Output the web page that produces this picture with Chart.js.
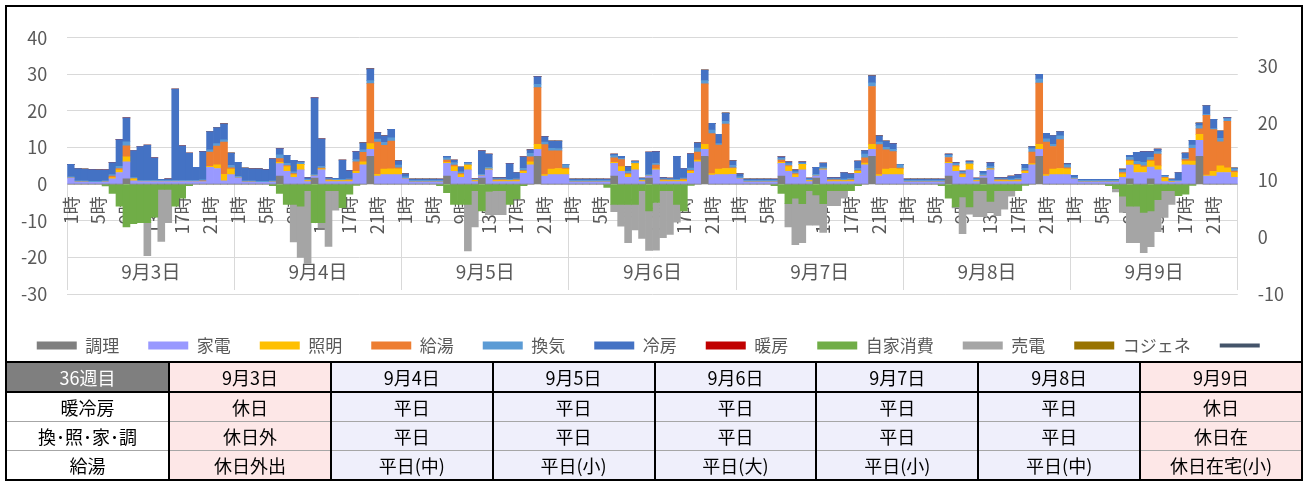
<!DOCTYPE html>
<html lang="ja">
<head>
<meta charset="utf-8">
<title>36週目 エネルギー</title>
<script src="https://cdn.jsdelivr.net/npm/chart.js@4.4.1/dist/chart.umd.min.js"></script>
<style>
  body { margin: 0; background: #fff; font-family: "Noto Sans CJK JP", "Noto Sans", sans-serif; }
  #chart-box { position: absolute; left: 5px; top: 5px; width: 1294px; height: 355px; border: 2px solid #000; border-bottom: none; }
  #chart-box canvas { display: block; }
  #info { position: absolute; left: 5px; top: 361px; width: 1298px; border-collapse: collapse; table-layout: fixed; border: 2px solid #000; }
  #info td { height: 28px; padding: 0; text-align: center; font-size: 18px; color: #000; border-left: 2px solid #000; border-right: 2px solid #000; border-top: 1px solid #a6a6a6; line-height: 28px; }
  #info tr.head td { border-top: 2px solid #000; border-bottom: 2px solid #000; }
  #info td.week { background: #7f7f7f; color: #fff; }
  #info td.holiday { background: #fde7e7; }
  #info td.weekday { background: #efeffb; }
</style>
</head>
<body>
<div id="chart-box"><canvas id="energyChart" width="1294" height="355"></canvas></div>
<table id="info"><colgroup><col style="width:163px"></colgroup><tbody></tbody></table>
<script>
// 横軸ラベル
const hourLabels = ["1時","2時","3時","4時","5時","6時","7時","8時","9時","10時","11時","12時",
  "13時","14時","15時","16時","17時","18時","19時","20時","21時","22時","23時","24時"];
const dayLabels = ["9月3日","9月4日","9月5日","9月6日","9月7日","9月8日","9月9日"];

// 表の中身
const weekLabel = "36週目";
const rowTitles = ["暖冷房", "換･照･家･調", "給湯"];
const hvacRow = ["休日","平日","平日","平日","平日","平日","休日"];
const otherRow = ["休日外","平日","平日","平日","平日","平日","休日在"];
const hotWaterRow = ["休日外出","平日(中)","平日(小)","平日(大)","平日(小)","平日(中)","休日在宅(小)"];

// 時間ごとの値（1日24本 × 7日）
const cooking = [
  0,0,0,0,0,0,0,0,1.5,0,0,0,0,0,0,0,0,0,0,0,0,0,0,0,
  0,0,0,0,0,0,2.2,0,0,0,0,1.7,0,0,0,0,0,0,0,7.6,0,0,0,0,
  0,0,0,0,0,0,2.2,0,0,0,0,1.7,0,0,0,0,0,0,0,7.6,0,0,0,0,
  0,0,0,0,0,0,2.2,0,0,0,0,1.7,0,0,0,0,0,0,0,7.6,0,0,0,0,
  0,0,0,0,0,0,2.2,0,0,0,0,1.7,0,0,0,0,0,0,0,7.6,0,0,0,0,
  0,0,0,0,0,0,2.2,0,0,0,0,1.7,0,0,0,0,0,0,0,7.6,0,0,0,0,
  0,0,0,0,0,0,0,0,1.5,0,0,1.5,0,0,0,0,0,0,7.6,0,0,0,0,0
];
const appliance = [
  1.7,0.6,0.6,0.5,0.5,0.6,1.5,3.2,4.6,0.9,0.7,0.7,0.7,0.7,0.7,0.7,0.7,0.7,0.7,0.7,4.6,4.3,0.9,2.6,
  1.7,0.6,0.6,0.5,0.5,0.6,3.4,3.5,1.9,3.9,0.7,0.5,3.9,0.7,0.7,0.7,0.7,3.0,5.3,1.9,2.2,2.6,2.6,2.6,
  1.5,0.6,0.6,0.6,0.6,0.6,3.5,3.5,1.9,3.9,0.7,0.6,3.9,0.7,0.7,0.7,0.7,3.0,5.3,1.9,2.2,2.6,2.6,2.6,
  0.6,0.6,0.6,0.6,0.6,0.6,3.5,3.5,1.9,3.9,0.7,0.5,3.9,0.7,0.7,0.7,0.7,3.0,6.1,1.9,2.5,2.6,2.6,2.7,
  1.5,0.6,0.6,0.6,0.6,0.6,3.5,3.5,1.9,3.9,0.7,0.5,3.9,0.7,0.7,0.7,0.7,3.0,5.3,1.9,2.2,2.6,2.6,2.6,
  0.6,0.6,0.6,0.6,0.6,0.6,3.5,3.5,1.9,3.9,0.7,0.5,3.9,0.7,0.7,0.7,0.7,3.0,5.3,1.9,2.2,2.6,2.6,2.6,
  1.4,0.6,0.6,0.6,0.6,0.6,0.6,1.9,3.7,3.2,3.2,3.2,3.9,0.7,0.6,0.7,5.3,5.2,4.4,2.2,2.2,3.2,3.2,1.9
];
const lighting = [
  0,0,0,0,0,0,0.3,0.7,1.4,0.6,0,0,0,0,0,0,0,0,0,0,0.3,1.0,1.8,1.5,
  0,0,0,0,0,0,0.4,1.3,0.7,1.5,0.3,0,0.3,0.3,0.3,0.3,0.3,0.5,0.8,1.6,0.5,1.5,1.6,1.6,
  0,0,0,0,0,0,0.3,1.3,0.7,1.3,0.3,0,0.2,0.3,0.3,0.3,0.3,0.5,0.8,1.4,0.4,1.5,1.7,1.5,
  0,0,0,0,0,0,0.3,1.3,0.7,1.7,0.3,0,0.3,0.3,0.3,0.3,0.4,0.5,0.5,1.4,0.4,1.5,1.7,1.6,
  0,0,0,0,0,0,0.3,1.3,0.7,1.5,0.3,0,0.2,0.3,0.3,0.3,0.3,0.5,0.5,1.4,0.4,1.5,1.7,1.6,
  0,0,0,0,0,0,0.3,1.3,0.7,1.6,0.3,0,0.3,0.3,0.3,0.3,0.3,0.5,0.3,1.4,0.4,1.5,1.7,1.6,
  0,0,0,0,0,0,0,0.9,1.1,2.0,1.5,1.6,1.1,1.0,0.1,0,1.0,1.1,1.6,0.3,1.3,1.8,1.3,1.3
];
const hotWater = [
  0,0,0,0,0,0,0.4,0.4,3.0,0,0,0,0,0,0,0,0,0,0,0.2,3.9,5.1,8.8,0.4,
  0,0,0,0,0,0,1.0,0.3,0.3,0,0,0,0.2,0.2,0,0,0.2,2.6,2.6,16.4,8.8,6.5,7.6,0.3,
  0,0,0,0,0,0,0.6,0.4,0.3,0,0,0,0,0.2,0.2,0,0.2,0.2,1.4,15.5,8.2,5.0,4.8,0.3,
  0,0,0,0,0,0,1.2,1.9,0.3,0,0,0,1.0,0.2,0.1,0,0.3,0.3,2.2,16.5,10.9,6.6,12.1,0.2,
  0,0,0,0,0,0,0.6,0.3,0.3,0,0,0,0,0.2,0.2,0,0.2,0.2,1.4,15.8,8.2,5.3,4.6,0.2,
  0,0,0,0,0,0,1.3,0.3,0.2,0,0,0,0,0.2,0.2,0,0.2,0.2,3.2,16.7,8.9,6.2,7.9,0.3,
  0,0,0,0,0,0,0,0.4,0.3,0.2,0.3,0.3,3.2,0.2,0,0,0.4,3.5,1.5,16.3,11.4,6.6,12.7,0.4
];
const ventilation = [
  0.3,0.3,0.3,0.3,0.3,0.3,0.4,0.6,1.1,0.3,0.3,0.3,0.3,0.3,0.3,0.3,0.3,0.3,0.3,0.3,0.6,0.7,0.6,0.6,
  0.4,0.3,0.3,0.3,0.3,0.3,1.0,0.6,0.5,0.5,0.3,0.4,0.5,0.3,0.3,0.3,0.3,0.6,0.7,0.8,0.8,0.8,0.9,0.7,
  0.5,0.4,0.4,0.4,0.4,0.4,0.6,0.7,0.5,0.6,0.3,0.4,0.5,0.3,0.3,0.3,0.3,0.6,0.9,0.9,0.7,0.7,0.6,0.9,
  0.4,0.4,0.4,0.4,0.4,0.4,0.6,0.4,0.6,0.5,0.4,0.4,0.5,0.3,0.3,0.3,0.3,0.6,1.1,0.9,1.0,0.4,0.8,0.6,
  0.5,0.4,0.4,0.4,0.4,0.4,0.5,0.5,0.5,0.4,0.4,0.5,0.6,0.3,0.3,0.4,0.4,0.6,1.0,1.0,0.7,0.7,0.6,0.9,
  0.4,0.4,0.4,0.4,0.4,0.4,0.6,0.5,0.5,0.5,0.4,0.6,0.6,0.3,0.3,0.4,0.4,0.6,0.9,1.1,0.9,0.6,1.0,0.8,
  0.4,0.4,0.4,0.4,0.4,0.4,0.4,0.5,0.7,0.8,1.0,0.7,0.7,0.3,0.4,0.3,0.4,0.9,0.9,0.3,0.3,0.9,0.7,0.6
];
const cooling = [
  3.4,3.4,3.2,3.2,3.1,3.0,3.3,7.3,6.5,7.4,9.3,9.7,6.2,0.3,0.5,25.0,9.5,7.5,3.6,7.7,5.0,4.4,4.4,3.4,
  3.9,3.5,3.3,3.4,3.2,6.0,1.7,2.2,3.1,0.3,0.5,21.0,7.5,0.3,0.3,5.3,2.2,2.2,1.9,3.2,1.8,1.8,2.3,1.2,
  0.8,0.4,0.4,0.4,0.4,0.4,0.4,0.7,1.3,0.2,0.2,6.4,3.6,0.3,0.3,4.3,1.7,3.2,1.0,2.1,1.5,2.0,2.1,0.1,
  0.4,0.4,0.4,0.4,0.4,0.4,0.4,0.5,1.3,0.2,0.3,6.2,3.2,0.3,0.3,6.3,2.6,3.9,1.4,2.9,1.8,2.5,2.2,1.3,
  0.8,0.4,0.4,0.4,0.4,0.4,0.4,0.5,0.5,0.3,0.3,1.9,1.1,0.3,0.3,1.8,1.2,2.0,1.0,1.9,1.7,1.7,1.6,0.1,
  0.4,0.4,0.4,0.4,0.4,0.4,0.3,0.3,0.3,0.3,0.3,0.7,1.1,0.3,0.3,0.8,1.0,1.1,0.6,1.3,1.5,2.4,1.2,0.3,
  0.6,0.3,0.3,0.3,0.3,0.3,0.3,0.4,0.6,2.5,2.9,1.6,0.7,0.2,0.3,2.2,1.4,1.3,0.7,2.4,2.5,2.0,0.3,0.2
];
const heating = [
  0,0,0,0,0,0,0,0,0,0,0,0,0,0,0,0,0,0,0,0,0,0,0,0,
  0,0,0,0,0,0,0,0,0,0,0,0,0,0,0,0,0,0,0,0,0,0,0,0,
  0,0,0,0,0,0,0,0,0,0,0,0,0,0,0,0,0,0,0,0,0,0,0,0,
  0,0,0,0,0,0,0,0,0,0,0,0,0,0,0,0,0,0,0,0,0,0,0,0,
  0,0,0,0,0,0,0,0,0,0,0,0,0,0,0,0,0,0,0,0,0,0,0,0,
  0,0,0,0,0,0,0,0,0,0,0,0,0,0,0,0,0,0,0,0,0,0,0,0,
  0,0,0,0,0,0,0,0,0,0,0,0,0,0,0,0,0,0,0,0,0,0,0,0
];
const selfUse = [
  0,0,0,0,0,-0.5,-2.5,-6.0,-11.7,-10.8,-10.5,-10.5,-9.0,-1.4,-1.4,-6.0,-3.8,-0.4,0,0,0,0,0,0,
  0,0,0,0,0,-0.4,-2.5,-5.5,-5.5,-6.0,-1.8,-10.5,-10.5,-1.8,-1.8,-6.4,-2.7,-0.3,0,0,0,0,0,0,
  0,0,0,0,0,-0.4,-2.3,-5.5,-5.5,-5.5,-1.8,-7.3,-2.0,-1.8,-1.8,-5.5,-4.0,-0.4,0,0,0,0,0,0,
  0,0,0,0,0,-0.9,-5.5,-5.5,-5.5,-5.5,-1.8,-7.3,-5.0,-1.8,-1.8,-5.5,-7.3,-0.3,0,0,0,0,0,0,
  0,0,0,0,0,-0.4,-2.5,-5.3,-3.8,-5.3,-1.8,-2.9,-5.3,-1.8,-1.8,-1.8,-1.8,-0.4,0,0,0,0,0,0,
  0,0,0,0,0,-0.4,-3.8,-6.2,-3.5,-6.2,-1.8,-1.8,-4.7,-1.8,-1.8,-1.8,-1.8,-0.3,0,0,0,0,0,0,
  0,0,0,0,0,-0.4,-1.2,-3.3,-6.0,-6.0,-7.7,-7.3,-4.2,-1.8,-1.8,-3.1,-2.7,-0.3,0,0,0,0,0,0
];
const sold = [
  0,0,0,0,0,0,0,0,0,0,0,-9.0,0,-14.2,-9.1,0,0,0,0,0,0,0,0,0,
  0,0,0,0,0,0,0,0,-10.3,-14.0,-19.9,0,-1.5,-15.2,-5.3,0,0,0,0,0,0,0,0,0,
  0,0,0,0,0,0,0,0,0,-12.7,-9.9,0,-6.3,-6.5,-6.5,0,0,0,0,0,0,0,0,0,
  0,0,0,0,0,0,-2.0,-6.0,-10.5,-7.0,-13.0,-10.8,-13.0,-12.8,-11.9,-4.9,0,0,0,0,0,0,0,0,
  0,0,0,0,0,0,0,-6.4,-12.7,-10.7,-9.4,-8.3,-7.9,-4.1,-4.1,-2.0,0,0,0,0,0,0,0,0,
  0,0,0,0,0,0,0,-0.3,-10.0,-2.0,-7.1,-7.1,-3.0,-6.8,-5.0,-1.5,0,0,0,0,0,0,0,0,
  0,0,0,0,0,0,-0.9,-4.4,-10.0,-10.0,-11.0,-9.8,-8.8,-7.3,-3.7,0,0,0,0,0,0,0,0,0
];
const cogeneration = [
  0,0,0,0,0,0,0,0,0,0,0,0,0,0,0,0,0,0,0,0,0,0,0,0,
  0,0,0,0,0,0,0,0,0,0,0,0,0,0,0,0,0,0,0,0,0,0,0,0,
  0,0,0,0,0,0,0,0,0,0,0,0,0,0,0,0,0,0,0,0,0,0,0,0,
  0,0,0,0,0,0,0,0,0,0,0,0,0,0,0,0,0,0,0,0,0,0,0,0,
  0,0,0,0,0,0,0,0,0,0,0,0,0,0,0,0,0,0,0,0,0,0,0,0,
  0,0,0,0,0,0,0,0,0,0,0,0,0,0,0,0,0,0,0,0,0,0,0,0,
  0,0,0,0,0,0,0,0,0,0,0,0,0,0,0,0,0,0,0,0,0,0,0,0
];
// 右軸の折れ線（表示される値なし）
const lineValues = [];

const FONT = '"Noto Sans CJK JP", "Noto Sans", sans-serif';
Chart.defaults.font.family = FONT;
Chart.defaults.color = "#595959";

// 系列：名前・データ・色
const barSeries = [
  ["調理", cooking, "#7f7f7f"],
  ["家電", appliance, "#9999ff"],
  ["照明", lighting, "#ffc000"],
  ["給湯", hotWater, "#ed7d31"],
  ["換気", ventilation, "#5b9bd5"],
  ["冷房", cooling, "#4472c4"],
  ["暖房", heating, "#c00000"],
  ["自家消費", selfUse, "#70ad47"],
  ["売電", sold, "#a5a5a5"],
  ["コジェネ", cogeneration, "#997300"]
];

const datasets = barSeries.map(([name, values, color]) => ({
  type: "bar",
  label: name,
  data: values,
  backgroundColor: color,
  borderWidth: 0,
  categoryPercentage: 1.0,
  barPercentage: 1.0,
  yAxisID: "y"
}));
datasets.push({
  type: "line",
  label: "",
  data: lineValues,
  yAxisID: "y2",
  borderColor: "#44546a",
  backgroundColor: "#44546a",
  borderWidth: 4,
  borderCapStyle: "round",
  pointRadius: 0
});

const xLabels = dayLabels.flatMap(() => hourLabels);

new Chart(document.getElementById("energyChart"), {
  data: { labels: xLabels, datasets: datasets },
  options: {
    responsive: false,
    animation: false,
    layout: { padding: { top: 21, left: -6, right: -3, bottom: -2 } },
    scales: {
      y: {
        position: "left",
        stacked: true,
        min: -30, max: 40,
        ticks: { stepSize: 10, padding: 20, font: { size: 18 } },
        grid: { color: "#d9d9d9", drawTicks: false },
        border: { display: false }
      },
      y2: {
        position: "right",
        min: -10, max: 35,
        ticks: { stepSize: 10, padding: 20, font: { size: 18 } },
        afterBuildTicks: (s) => { s.ticks = s.ticks.filter(t => t.value % 10 === 0); },
        grid: { display: false, drawTicks: false },
        border: { display: false }
      },
      x: {
        type: "category",
        position: { y: 0 },
        stacked: true,
        z: 1,
        grid: { display: false, drawTicks: false },
        border: { display: false },
        ticks: {
          autoSkip: false, minRotation: 90, maxRotation: 90, padding: 12,
          font: { size: 18 },
          callback: function (value, index) { return index % 4 === 0 ? this.getLabelForValue(value) : ""; }
        }
      },
      // 日付の区切り線
      xSep: {
        type: "linear", axis: "x",
        position: { y: 0 },
        min: 0, max: hourLabels.length * dayLabels.length,
        ticks: { stepSize: hourLabels.length, display: false },
        grid: { drawOnChartArea: false, drawTicks: true, tickLength: 106, color: "#d9d9d9" },
        border: { display: false }
      },
      // 日付ラベル
      xDay: {
        type: "linear", axis: "x",
        position: { y: -20 },
        min: 0, max: hourLabels.length * dayLabels.length,
        afterBuildTicks: (s) => { s.ticks = dayLabels.map((d, i) => ({ value: hourLabels.length * (i + 0.5) })); },
        ticks: {
          autoSkip: false, maxRotation: 0, padding: 3, font: { size: 19 },
          callback: (v) => dayLabels[Math.round(v / hourLabels.length - 0.5)]
        },
        grid: { display: false, drawTicks: false },
        border: { display: false }
      }
    },
    plugins: {
      tooltip: { enabled: false },
      legend: {
        position: "bottom",
        title: { display: true, text: "", padding: { top: 2, bottom: 0 }, font: { size: 10 } },
        labels: {
          usePointStyle: true, pointStyleWidth: 40, boxHeight: 8, padding: 29,
          font: { size: 17 }, color: "#595959",
          generateLabels: (chart) => {
            const items = Chart.defaults.plugins.legend.labels.generateLabels(chart);
            items.forEach(it => {
              it.pointStyle = chart.data.datasets[it.datasetIndex].type === "line" ? "line" : "rect";
            });
            return items;
          }
        }
      }
    }
  }
});

// 下の表
function renderInfoTable() {
  const tbody = document.querySelector("#info tbody");
  const isHoliday = hvacRow.map(v => v === "休日");
  const rows = [
    [weekLabel, dayLabels],
    [rowTitles[0], hvacRow],
    [rowTitles[1], otherRow],
    [rowTitles[2], hotWaterRow]
  ];
  rows.forEach(([title, cells], r) => {
    const tr = document.createElement("tr");
    if (r === 0) tr.className = "head";
    const th = document.createElement("td");
    th.textContent = title;
    if (r === 0) th.className = "week";
    tr.appendChild(th);
    cells.forEach((txt, i) => {
      const td = document.createElement("td");
      td.textContent = txt;
      td.className = isHoliday[i] ? "holiday" : "weekday";
      tr.appendChild(td);
    });
    tbody.appendChild(tr);
  });
}
renderInfoTable();
</script>
</body>
</html>
